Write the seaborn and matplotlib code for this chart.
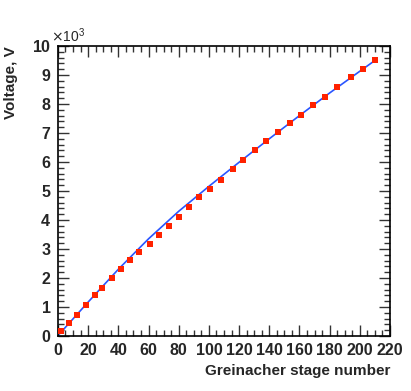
import numpy as np
import pandas as pd
import matplotlib
matplotlib.use('Agg')
import matplotlib.pyplot as plt
import seaborn as sns
from matplotlib.ticker import MultipleLocator, ScalarFormatter

# measured points (stage number, voltage in V)
stage = [2, 7.5, 12.6, 18.6, 24.7, 29.4, 35.8, 41.7, 47.7, 53.9, 60.8, 66.7,
         73.8, 80, 86.8, 93.6, 100.7, 107.8, 115.8, 122.8, 130.8, 137.8,
         145.8, 153.7, 160.8, 168.8, 176.9, 184.9, 194, 201.9, 210.1]
voltage = [160, 460, 730, 1070, 1400, 1670, 1990, 2300, 2610, 2900, 3180, 3480,
           3800, 4110, 4450, 4780, 5070, 5380, 5750, 6070, 6420, 6720,
           7030, 7340, 7630, 7960, 8250, 8590, 8930, 9210, 9510]

# fit curve
fit_x = [1, 20, 40, 60, 80, 100, 120, 140, 160, 180, 200, 210]
fit_y = [70, 1170, 2300, 3350, 4300, 5160, 5990, 6800, 7600, 8380, 9130, 9500]

pts = pd.DataFrame({'stage': stage, 'voltage': voltage})
fit = pd.DataFrame({'stage': fit_x, 'voltage': fit_y})

sns.set_style('ticks')
plt.rcParams['font.family'] = ['Liberation Sans', 'DejaVu Sans']

fig = plt.figure(figsize=(4.11, 3.91), dpi=100)
ax = fig.add_axes([0.141, 0.1407, 0.808, 0.7417])

sns.lineplot(data=fit, x='stage', y='voltage', ax=ax, color='#2a55ff',
             linewidth=1.2, sort=False, zorder=3)
sns.scatterplot(data=pts, x='stage', y='voltage', ax=ax, color='#ff2200',
                marker='s', s=22, linewidth=0, zorder=4)

ax.set_xlim(0, 220)
ax.set_ylim(0, 10000)
ax.xaxis.set_major_locator(MultipleLocator(20))
ax.xaxis.set_minor_locator(MultipleLocator(5))
ax.yaxis.set_major_locator(MultipleLocator(1000))
ax.yaxis.set_minor_locator(MultipleLocator(200))

fmt = ScalarFormatter(useMathText=True)
fmt.set_powerlimits((3, 3))
ax.yaxis.set_major_formatter(fmt)
ax.yaxis.get_offset_text().set_fontsize(10)
ax.yaxis.get_offset_text().set_x(-0.02)

ax.tick_params(which='both', direction='in', top=True, right=True,
               labelsize=11.5, color='#333333', pad=5)
ax.tick_params(which='major', length=8, width=1)
ax.tick_params(which='minor', length=4, width=1)
for lab in ax.get_xticklabels() + ax.get_yticklabels():
    lab.set_fontweight('bold')
for sp in ax.spines.values():
    sp.set_linewidth(1.2)
    sp.set_color('black')

ax.set_xlabel('Greinacher stage number', fontsize=11, fontweight='bold',
              loc='right')
ax.set_ylabel('Voltage, V', fontsize=11, fontweight='bold', loc='top')
ax.xaxis.set_label_coords(1.0, -0.095)
ax.yaxis.set_label_coords(-0.12, 1.0)

plt.savefig('out.png', dpi=100)
